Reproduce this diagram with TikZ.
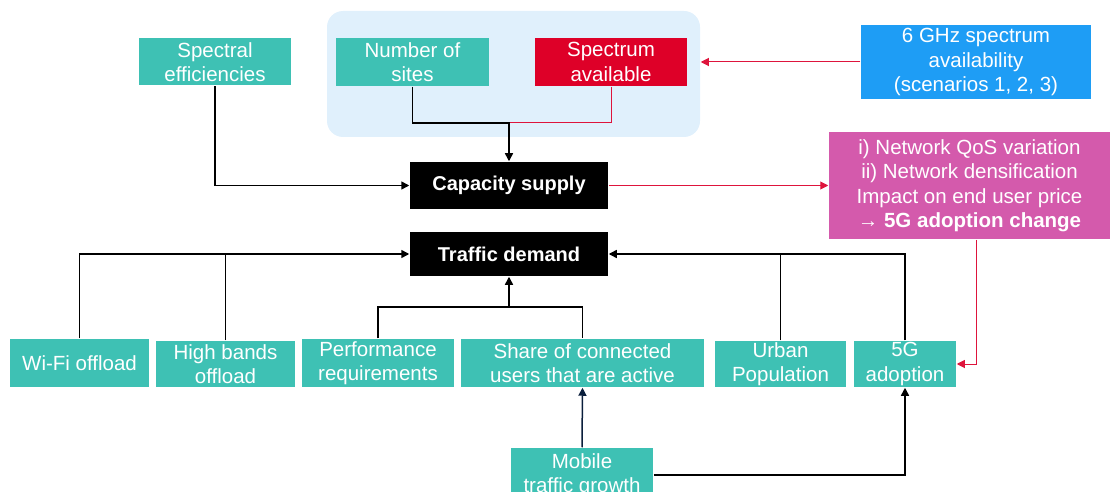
\documentclass[tikz,border=0pt]{standalone}
\usepackage{fontspec}
\setmainfont{Liberation Sans}
\usetikzlibrary{arrows.meta}

\definecolor{tealbox}{RGB}{62,193,180}
\definecolor{redbox}{RGB}{222,0,40}
\definecolor{bluebox}{RGB}{30,157,245}
\definecolor{pinkbox}{RGB}{212,90,172}
\definecolor{paleblue}{RGB}{224,240,252}
\definecolor{redline}{RGB}{222,20,60}
\definecolor{navyline}{RGB}{10,30,60}

\tikzset{every picture/.style={line width=1.5pt}}
\tikzset{
  factor/.style={fill=tealbox,text=white,align=center,inner sep=0pt,font=\fontsize{20.5}{24.5}\selectfont},
  keybox/.style={fill=black,text=white,align=center,inner sep=0pt,font=\fontsize{20}{24}\selectfont\bfseries},
  link/.style={draw=black,line width=1.5pt},
  linkarr/.style={link,-{Triangle[length=8pt,width=8pt]}},
  redlink/.style={draw=redline,line width=1pt},
  redarr/.style={redlink,-{Triangle[length=8pt,width=8pt]}}
}

\begin{document}
\begin{tikzpicture}[x=1pt,y=1pt,yscale=-1,xscale=1]
\clip (0,0) rectangle (1112,492);
\useasboundingbox (0,0) rectangle (1112,492);

%Shape: Group background
\node (group) [fill=paleblue,rounded corners=16pt,minimum width=373pt,minimum height=126pt,inner sep=0pt] at (513.5,74) {};

% Text Node
\node (spec) [factor,minimum width=152pt,minimum height=47pt] at (215,62) {Spectral\\efficiencies};
% Text Node
\node (sites) [factor,minimum width=153pt,minimum height=48pt] at (412.5,62) {Number of\\sites};
% Text Node
\node (avail) [factor,fill=redbox,minimum width=152pt,minimum height=48pt] at (611,62) {Spectrum\\available};
% Text Node
\node (ghz) [factor,fill=bluebox,minimum width=230pt,minimum height=74pt] at (976,62) {6 GHz spectrum\\availability\\(scenarios 1, 2, 3)};
% Text Node
\node (cap) [keybox,minimum width=198pt,minimum height=47pt] at (509,185.5) {Capacity supply};
% Text Node
\node (impact) [factor,fill=pinkbox,minimum width=281pt,minimum height=107pt] at (969.5,185.5) {i) Network QoS variation\\ii) Network densification\\Impact on end user price\\\textbf{→ 5G adoption change}};
% Text Node
\node (traffic) [keybox,minimum width=198pt,minimum height=44pt] at (509,254) {Traffic demand};
% Text Node
\node (wifi) [factor,minimum width=139pt,minimum height=48pt] at (79.5,363) {Wi-Fi offload};
% Text Node
\node (high) [factor,minimum width=139pt,minimum height=46pt] at (225.5,364) {High bands\\offload};
% Text Node
\node (perf) [factor,minimum width=152pt,minimum height=48pt] at (378,363) {Performance\\requirements};
% Text Node
\node (share) [factor,minimum width=243pt,minimum height=48pt] at (582.5,363) {Share of connected\\users that are active};
% Text Node
\node (urban) [factor,minimum width=131pt,minimum height=46pt] at (780.5,364) {Urban\\Population};
% Text Node
\node (fiveg) [factor,minimum width=102pt,minimum height=46pt] at (905,364) {5G\\adoption};
% Text Node
\node (mobile) [factor,minimum width=142pt,minimum height=54pt] at (582,475) {Mobile\\traffic growth};

\coordinate (supjoin) at (509,123);
\coordinate (demjoin) at (509,307);

%Connectors: capacity side
\draw [redlink] (avail.south) |- (supjoin);
\draw [linkarr] (sites.south) |- (supjoin) -- (cap.north);
\draw [linkarr] (spec.south) |- (cap.west);
\draw [redarr] (ghz.west) -- (ghz.west -| group.east);
\draw [redarr] (cap.east) -- (impact.west);
\draw [redarr] ([xshift=6.5pt]impact.south) |- (fiveg.east);

%Connectors: demand side
\draw [linkarr] (wifi.north) |- (traffic.west);
\draw [link] (high.north) -- (high.north |- traffic.west);
\draw [linkarr] (fiveg.north) |- (traffic.east);
\draw [link] (urban.north) -- (urban.north |- traffic.east);
\draw [link] (perf.north) |- (demjoin) -| (share.north);
\draw [linkarr] (demjoin) -- (traffic.south);
\draw [linkarr,draw=navyline] (mobile.north) -- (share.south);
\draw [linkarr] (mobile.east) -| (fiveg.south);

\end{tikzpicture}
\end{document}
